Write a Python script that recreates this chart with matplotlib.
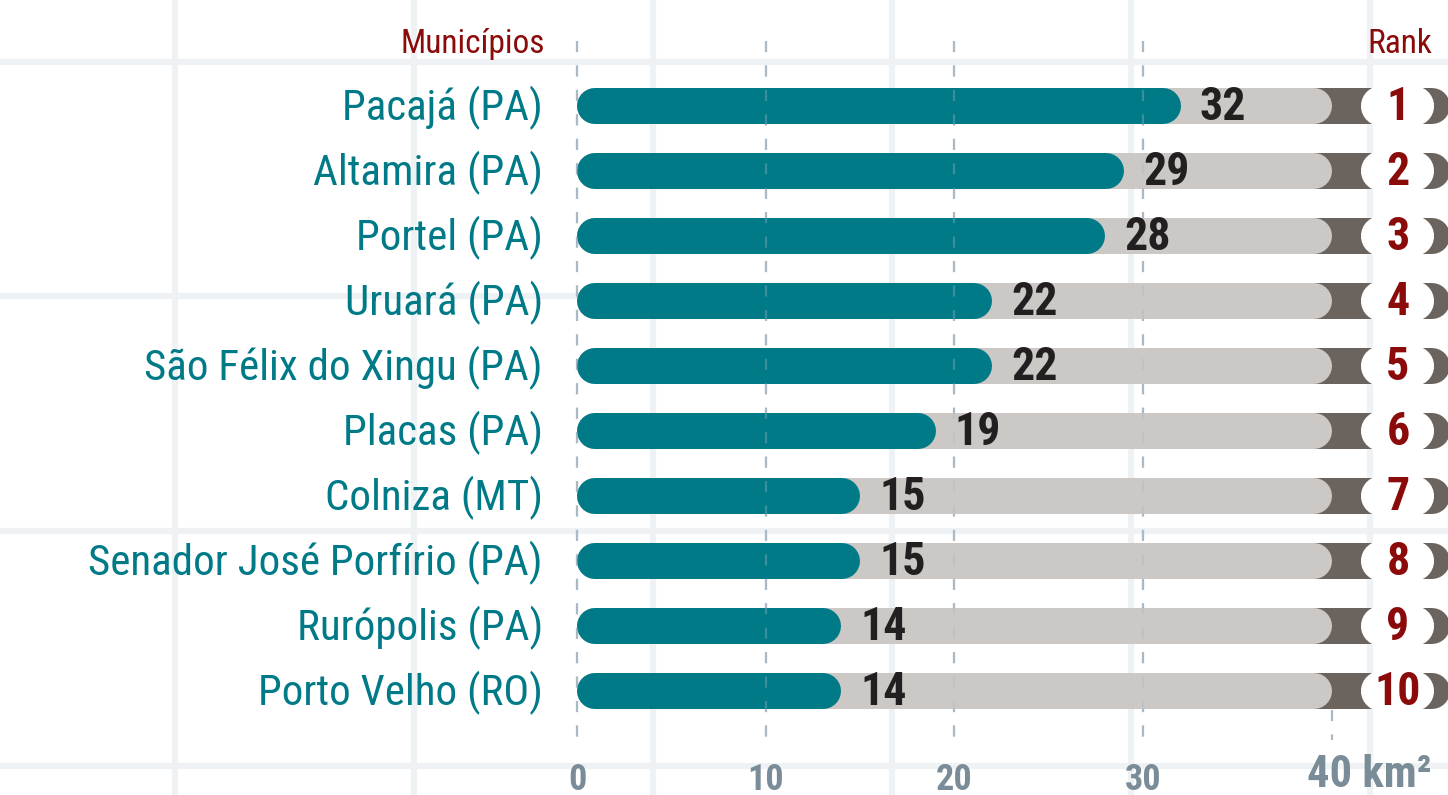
import numpy as np
import matplotlib.pyplot as plt

# Desmatamento por município (km²)
municipios = [
    "Pacajá (PA)", "Altamira (PA)", "Portel (PA)", "Uruará (PA)",
    "São Félix do Xingu (PA)", "Placas (PA)", "Colniza (MT)",
    "Senador José Porfírio (PA)", "Rurópolis (PA)", "Porto Velho (RO)",
]
area_km2 = [32, 29, 28, 22, 22, 19, 15, 15, 14, 14]
rank = [1, 2, 3, 4, 5, 6, 7, 8, 9, 10]
x_ticks = [0, 10, 20, 30]
x_max = 40

TEAL = "#007a87"
LIGHT = "#ccc8c5"
DARK = "#6b635d"
RED = "#8b0a0a"
INK = "#231f20"
AXIS = "#7a8c97"
DASH = "#a9b9c6"
GRID = "#eef2f4"

FONT = ["Roboto Condensed", "Liberation Sans Narrow", "DejaVu Sans"]
plt.rcParams["font.stretch"] = "condensed"

fig = plt.figure(figsize=(14.48, 7.95), dpi=100)
ax = fig.add_axes([0, 0, 1, 1])
ax.set_xlim(-30.57, 46.15)
ax.set_ylim(10.6, -1.63)
ax.axis("off")

px = 18.875                # pixels per km²
bar_lw = 36 * 72 / 100     # bar thickness in points
r = 18 / px                # cap radius in data units

# faint background grid
for gx in np.arange(-21.3, 46, 12.66):
    ax.axvline(gx, color=GRID, lw=4.5, zorder=0)
for gy in np.arange(-0.68, 10.6, 3.61):
    ax.axhline(gy, color=GRID, lw=4.5, zorder=0)

# dashed reference lines
for t in x_ticks:
    ax.plot([t, t], [-1.0, 9.75], color=DASH, lw=1.6, ls=(0, (5, 6)), zorder=0.5)
    ax.plot([t, t], [-1.0, 9.75], color=DASH, lw=1.6, ls=(0, (5, 6)),
            alpha=0.35, zorder=6)
ax.plot([x_max, x_max], [9.3, 9.75], color=DASH, lw=1.6, ls=(0, (5, 6)),
        zorder=0.5)

for i, (name, v, rk) in enumerate(zip(municipios, area_km2, rank)):
    ax.plot([38, 46.15 - r + 0.1], [i, i], color=DARK, lw=bar_lw,
            solid_capstyle="round", zorder=1)
    ax.plot([r, x_max - r], [i, i], color=LIGHT, lw=bar_lw,
            solid_capstyle="round", zorder=2)
    ax.plot([42.6, 44.35], [i, i], color="white", lw=bar_lw + 3,
            solid_capstyle="round", zorder=3)
    ax.plot([r, v - r], [i, i], color=TEAL, lw=bar_lw,
            solid_capstyle="round", zorder=4)

    ax.text(-1.8, i + 0.035, name, ha="right", va="center", fontsize=31,
            color=TEAL, family=FONT)
    ax.text(v + 1.0, i + 0.02, str(v), ha="left", va="center", fontsize=33,
            fontweight="bold", color=INK, family=FONT, zorder=7)
    ax.text(43.5, i + 0.02, str(rk), ha="center", va="center", fontsize=33,
            fontweight="bold", color=RED, family=FONT, zorder=7)

ax.text(-1.7, -0.95, "Municípios", ha="right", va="center", fontsize=24,
        color=RED, family=FONT)
ax.text(45.3, -0.95, "Rank", ha="right", va="center", fontsize=24,
        color=RED, family=FONT)

for t in x_ticks:
    ax.text(t, 10.52, str(t), ha="center", va="baseline", fontsize=26,
            fontweight="bold", color=AXIS, family=FONT)
ax.text(45.3, 10.47, f"{x_max} km²", ha="right", va="baseline", fontsize=32,
        fontweight="bold", color=AXIS, family=FONT)

fig.savefig("out.png", dpi=100)
